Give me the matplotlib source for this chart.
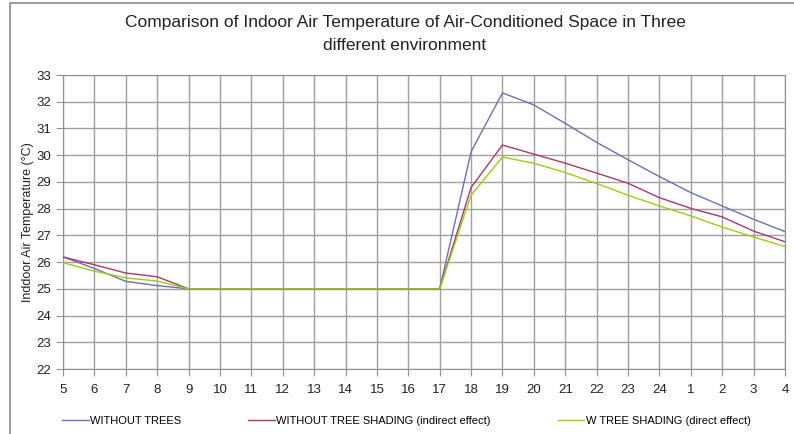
import matplotlib.pyplot as plt
from matplotlib.patches import Rectangle

plt.rcParams['font.family'] = ['Liberation Sans', 'DejaVu Sans']

# hours of the day, 5am through to 4am next day
hours = ['5', '6', '7', '8', '9', '10', '11', '12', '13', '14', '15', '16',
         '17', '18', '19', '20', '21', '22', '23', '24', '1', '2', '3', '4']

without_trees = [26.2, 25.76, 25.28, 25.12, 25.0, 25.0, 25.0, 25.0, 25.0, 25.0, 25.0, 25.0,
                 25.0, 30.13, 32.33, 31.88, 31.19, 30.48, 29.83, 29.2, 28.6, 28.1, 27.6, 27.14]
without_shading = [26.19, 25.9, 25.59, 25.45, 25.0, 25.0, 25.0, 25.0, 25.0, 25.0, 25.0, 25.0,
                   25.0, 28.79, 30.38, 30.04, 29.7, 29.33, 28.95, 28.41, 28.01, 27.69, 27.16, 26.76]
tree_shading = [25.98, 25.66, 25.41, 25.29, 25.0, 25.0, 25.0, 25.0, 25.0, 25.0, 25.0, 25.0,
                25.0, 28.5, 29.93, 29.7, 29.35, 28.94, 28.5, 28.1, 27.73, 27.31, 26.94, 26.58]

labels = ['WITHOUT TREES', 'WITHOUT TREE SHADING (indirect effect)',
          'W TREE SHADING (direct effect)']
colors = ['#6f6fb2', '#a63a6a', '#9ccc14']

fig = plt.figure(figsize=(7.94, 4.34), dpi=100)
ax = fig.add_axes([63 / 794, 65 / 434, 722 / 794, 294 / 434])

x = list(range(len(hours)))
for ys, lab, c in zip([without_trees, without_shading, tree_shading], labels, colors):
    ax.plot(x, ys, color=c, lw=1.0, label=lab, zorder=3)

ax.set_xlim(0, len(hours) - 1)
ax.set_ylim(22, 33)
ax.set_xticks(x)
ax.set_xticklabels(hours)
ax.set_yticks(range(22, 34))
ax.grid(True, color='#a0a0a0', lw=1.0)
ax.set_axisbelow(True)
for s in ax.spines.values():
    s.set_color('#909090')
ax.tick_params(colors='#909090', labelcolor='#222222', labelsize=9.5, length=5)
ax.tick_params(axis='x', pad=6)

ax.set_ylabel('Inddoor Air Temperature (°C)', fontsize=9, color='#222222', labelpad=2)

fig.text(405 / 794, 1 - 22 / 434,
         'Comparison of Indoor Air Temperature of Air-Conditioned Space in Three',
         ha='center', va='center', fontsize=12.5, color='#222222')
fig.text(405 / 794, 1 - 45 / 434, 'different environment',
         ha='center', va='center', fontsize=12.5, color='#222222')

fig.legend(loc='center left', bbox_to_anchor=(52 / 794, 1 - 421 / 434), ncol=3,
           frameon=False, fontsize=8, handlelength=2.4, handletextpad=0.15,
           columnspacing=6.0)

# outer chart border
fig.patches.append(Rectangle((10 / 794, -0.1), 1.0, 1.1 - 3 / 434,
                             transform=fig.transFigure, fill=False,
                             edgecolor='#8a8a8a', lw=1.2))

fig.savefig('out.png', dpi=100)
